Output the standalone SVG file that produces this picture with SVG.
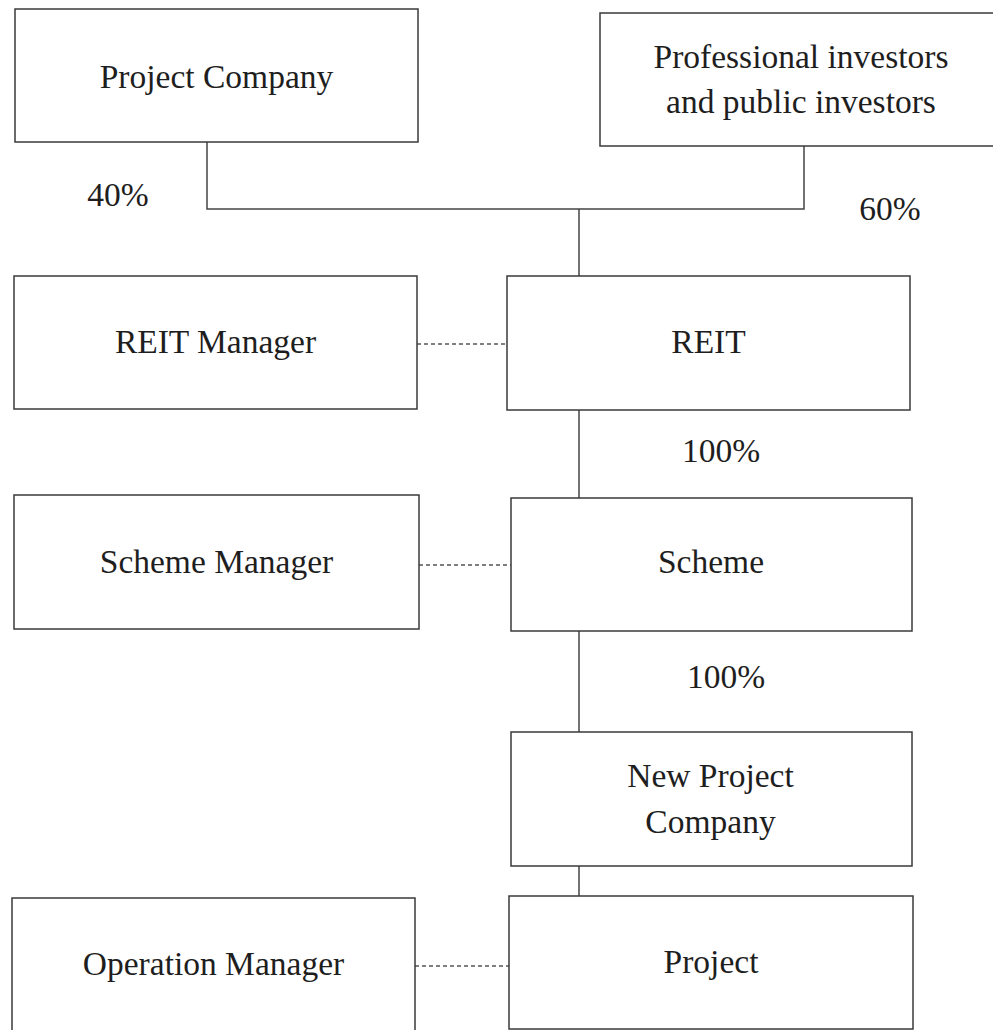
<svg xmlns="http://www.w3.org/2000/svg" width="993" height="1030" viewBox="0 0 993 1030">
  <style>
    .box { fill: #ffffff; stroke: #3a3a3a; stroke-width: 1.5; }
    .link { fill: none; stroke: #444444; stroke-width: 1.5; }
    .dash { fill: none; stroke: #555555; stroke-width: 1.3; stroke-dasharray: 4 3; }
    .label { font-family: 'Liberation Serif', 'Times New Roman', serif; font-size: 33.5px; fill: #1e1e1e; text-anchor: middle; }
  </style>
  <rect width="993" height="1030" fill="#ffffff"/>

  <!-- ownership (solid) and management (dashed) links -->
  <g id="connectors">
    <polyline class="link" points="207,142 207,209 804,209 804,146"/>
    <line class="link" x1="579" y1="209" x2="579" y2="276"/>
    <line class="link" x1="579" y1="410" x2="579" y2="498"/>
    <line class="link" x1="579" y1="631" x2="579" y2="732"/>
    <line class="link" x1="579" y1="866" x2="579" y2="896"/>
    <line class="dash" x1="417" y1="344" x2="507" y2="344"/>
    <line class="dash" x1="419" y1="565" x2="511" y2="565"/>
    <line class="dash" x1="415" y1="966" x2="509" y2="966"/>
    <text class="label" x="118" y="206">40%</text>
    <text class="label" x="890" y="220">60%</text>
    <text class="label" x="721" y="462">100%</text>
    <text class="label" x="726" y="688">100%</text>
  </g>

  <g id="project-company">
    <rect class="box" x="15" y="9" width="403" height="133"/>
    <text class="label" x="216.5" y="88">Project Company</text>
  </g>

  <g id="investors">
    <rect class="box" x="600" y="13" width="400" height="133"/>
    <text class="label" x="801" y="68">Professional investors</text>
    <text class="label" x="801" y="113">and public investors</text>
  </g>

  <g id="reit-manager">
    <rect class="box" x="14" y="276" width="403" height="133"/>
    <text class="label" x="215.5" y="353">REIT Manager</text>
  </g>

  <g id="reit">
    <rect class="box" x="507" y="276" width="403" height="134"/>
    <text class="label" x="708.5" y="353">REIT</text>
  </g>

  <g id="scheme-manager">
    <rect class="box" x="14" y="495" width="405" height="134"/>
    <text class="label" x="216.5" y="573">Scheme Manager</text>
  </g>

  <g id="scheme">
    <rect class="box" x="511" y="498" width="401" height="133"/>
    <text class="label" x="711" y="573">Scheme</text>
  </g>

  <g id="new-project-company">
    <rect class="box" x="511" y="732" width="401" height="134"/>
    <text class="label" x="710.5" y="787">New Project</text>
    <text class="label" x="710.5" y="833">Company</text>
  </g>

  <g id="operation-manager">
    <rect class="box" x="12" y="898" width="403" height="136"/>
    <text class="label" x="213.5" y="975">Operation Manager</text>
  </g>

  <g id="project">
    <rect class="box" x="509" y="896" width="404" height="133"/>
    <text class="label" x="711" y="973">Project</text>
  </g>
</svg>
